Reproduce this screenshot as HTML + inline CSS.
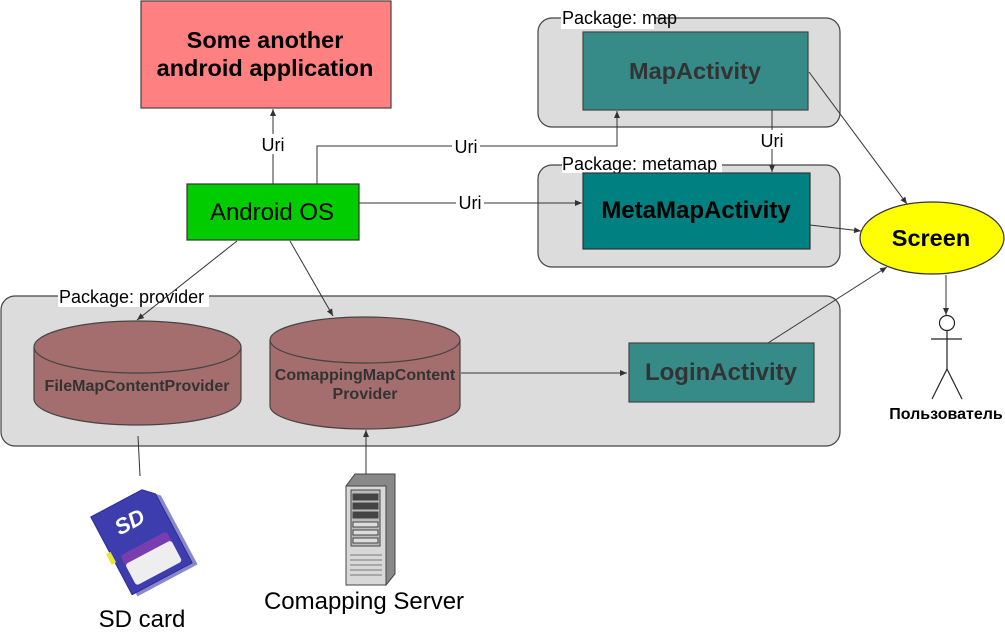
<!DOCTYPE html>
<html><head><meta charset="utf-8"><style>
html,body{margin:0;padding:0;background:#fff;}
svg{display:block;font-family:"Liberation Sans","DejaVu Sans",sans-serif;}
</style></head><body>
<svg width="1005" height="634" viewBox="0 0 1005 634" xmlns="http://www.w3.org/2000/svg">
<defs>
<marker id="a" markerWidth="8" markerHeight="8" refX="7" refY="3" orient="auto" markerUnits="userSpaceOnUse"><path d="M0,0 L7,3 L0,6 z" fill="#333"/></marker>
</defs>
<rect x="538" y="18" width="302" height="109" rx="14" fill="#dcdcdc" stroke="#444" stroke-width="1.2"/>
<rect x="538" y="165" width="302" height="102" rx="14" fill="#dcdcdc" stroke="#444" stroke-width="1.2"/>
<rect x="1" y="296" width="839" height="150" rx="14" fill="#dcdcdc" stroke="#444" stroke-width="1.2"/>
<rect x="561" y="8" width="93" height="21" fill="#fff"/>
<text x="562" y="24" font-size="18">Package: map</text>
<rect x="562" y="154" width="160" height="19" fill="#fff"/>
<text x="562" y="170" font-size="18">Package: metamap</text>
<rect x="58" y="286" width="151" height="21" fill="#fff"/>
<text x="59" y="303" font-size="18">Package: provider</text>

<rect x="141" y="1" width="250" height="107" fill="#ff8080" stroke="#444" stroke-width="1.2"/>
<text x="265" y="48" font-size="23.5" font-weight="bold" text-anchor="middle">Some another</text>
<text x="265" y="76" font-size="23.5" font-weight="bold" text-anchor="middle">android application</text>

<rect x="187" y="184" width="172" height="56" fill="#00cc00" stroke="#333" stroke-width="1.2"/>
<text x="272" y="220" font-size="24" text-anchor="middle">Android OS</text>

<g stroke="#333" stroke-width="1" fill="none">
<line x1="273" y1="184" x2="273" y2="109" marker-end="url(#a)"/>
<polyline points="317,184 317,146 617,146 617,111" marker-end="url(#a)"/>
<line x1="359" y1="203" x2="582" y2="203" marker-end="url(#a)"/>
<line x1="772" y1="110" x2="772" y2="172" marker-end="url(#a)"/>
<line x1="809" y1="72" x2="907" y2="204" marker-end="url(#a)"/>
<line x1="810" y1="225" x2="861" y2="231" marker-end="url(#a)"/>
<line x1="768" y1="343" x2="887" y2="267" marker-end="url(#a)"/>
<line x1="946" y1="275" x2="946" y2="315" marker-end="url(#a)"/>
<line x1="237" y1="241" x2="137" y2="320" marker-end="url(#a)"/>
<line x1="290" y1="241" x2="333" y2="316" marker-end="url(#a)"/>
<line x1="461" y1="373" x2="627" y2="373" marker-end="url(#a)"/>
<line x1="138" y1="436" x2="140" y2="476"/>
<line x1="366" y1="476" x2="366" y2="430" marker-end="url(#a)"/>
</g>
<g font-size="18" text-anchor="middle">
<rect x="259" y="134" width="28" height="20" fill="#fff"/><text x="273" y="151">Uri</text>
<rect x="452" y="136" width="28" height="20" fill="#fff"/><text x="466" y="153">Uri</text>
<rect x="456" y="193" width="28" height="20" fill="#fff"/><text x="470" y="209">Uri</text>
<rect x="760" y="130" width="24" height="19" fill="#fff"/><text x="772" y="147">Uri</text>
</g>

<rect x="583" y="32" width="225" height="78" fill="#368a88" stroke="#444" stroke-width="1.2"/>
<text x="695" y="79" font-size="23.5" font-weight="bold" fill="#333" text-anchor="middle">MapActivity</text>
<rect x="583" y="173" width="227" height="76" fill="#008080" stroke="#333" stroke-width="1.2"/>
<text x="696" y="218" font-size="24" font-weight="bold" fill="#000" text-anchor="middle">MetaMapActivity</text>
<rect x="629" y="343" width="185" height="59" fill="#368a88" stroke="#444" stroke-width="1.2"/>
<text x="721" y="380" font-size="24" font-weight="bold" fill="#333" text-anchor="middle">LoginActivity</text>

<ellipse cx="932" cy="238" rx="72" ry="36" fill="#ffff00" stroke="#333" stroke-width="1.2"/>
<text x="931" y="246" font-size="23.5" font-weight="bold" text-anchor="middle">Screen</text>

<g stroke="#222" stroke-width="1.2" fill="none">
<circle cx="947" cy="323" r="7.5" fill="#fff"/>
<line x1="931" y1="339" x2="962" y2="339"/>
<line x1="947" y1="331" x2="947" y2="369"/>
<line x1="947" y1="369" x2="932" y2="399"/>
<line x1="947" y1="369" x2="962" y2="399"/>
</g>
<text x="946" y="419" font-size="16" font-weight="bold" text-anchor="middle">Пользователь</text>

<g stroke="#444" stroke-width="1.2">
<path d="M34,347 L34,399 A103.5,26 0 0 0 241,399 L241,347" fill="#a56e6e"/>
<ellipse cx="137.5" cy="347" rx="103.5" ry="26" fill="#a56e6e"/>
<path d="M270,340 L270,406 A95,23 0 0 0 460,406 L460,340" fill="#a56e6e"/>
<ellipse cx="365" cy="340" rx="95" ry="23" fill="#a56e6e"/>
</g>
<text x="137" y="391" font-size="16" font-weight="bold" fill="#333" text-anchor="middle">FileMapContentProvider</text>
<text x="365" y="380" font-size="16" font-weight="bold" fill="#333" text-anchor="middle">ComappingMapContent</text>
<text x="365" y="399" font-size="16" font-weight="bold" fill="#333" text-anchor="middle">Provider</text>

<g transform="translate(145,538) rotate(-28)">
<path d="M-38,-44 L20,-44 L30,-34 L30,44 L-38,44 Z" fill="#8888cc" transform="translate(4,4)"/>
<path d="M-38,-44 L20,-44 L30,-34 L30,44 L-38,44 Z" fill="#3d3dae" stroke="#2c2c90"/>
<rect x="-30" y="4" width="52" height="34" rx="3" fill="#7a3db0"/>
<rect x="-30" y="14" width="52" height="24" rx="3" fill="#eee"/>
<rect x="-42" y="-4" width="5" height="12" fill="#e8e830"/>
<text x="-6" y="-14" font-size="22" font-style="italic" font-weight="bold" fill="#fff" text-anchor="middle">SD</text>
</g>
<text x="142" y="627" font-size="24" text-anchor="middle">SD card</text>

<g stroke="#444" stroke-width="1">
<path d="M346,486 L355,474 L395,474 L395,574 L386,585 Z" fill="#888"/>
<rect x="346" y="486" width="40" height="99" fill="#d8d8d8"/>
<rect x="351" y="490" width="29" height="56" fill="#bbb"/>
<rect x="353" y="494" width="25" height="6" fill="#444"/>
<rect x="353" y="503" width="25" height="6" fill="#444"/>
<rect x="353" y="512" width="25" height="6" fill="#444"/>
<rect x="353" y="522" width="25" height="5" fill="#ddd"/>
<rect x="353" y="530" width="25" height="5" fill="#ddd"/>
<rect x="353" y="538" width="25" height="5" fill="#ddd"/>
</g>
<g stroke="#777" stroke-width="1">
<line x1="350" y1="555" x2="382" y2="555"/><line x1="350" y1="560" x2="382" y2="560"/>
<line x1="350" y1="565" x2="382" y2="565"/><line x1="350" y1="570" x2="382" y2="570"/>
<line x1="350" y1="575" x2="382" y2="575"/>
</g>
<text x="364" y="609" font-size="24" text-anchor="middle">Comapping Server</text>
</svg>
</body></html>
